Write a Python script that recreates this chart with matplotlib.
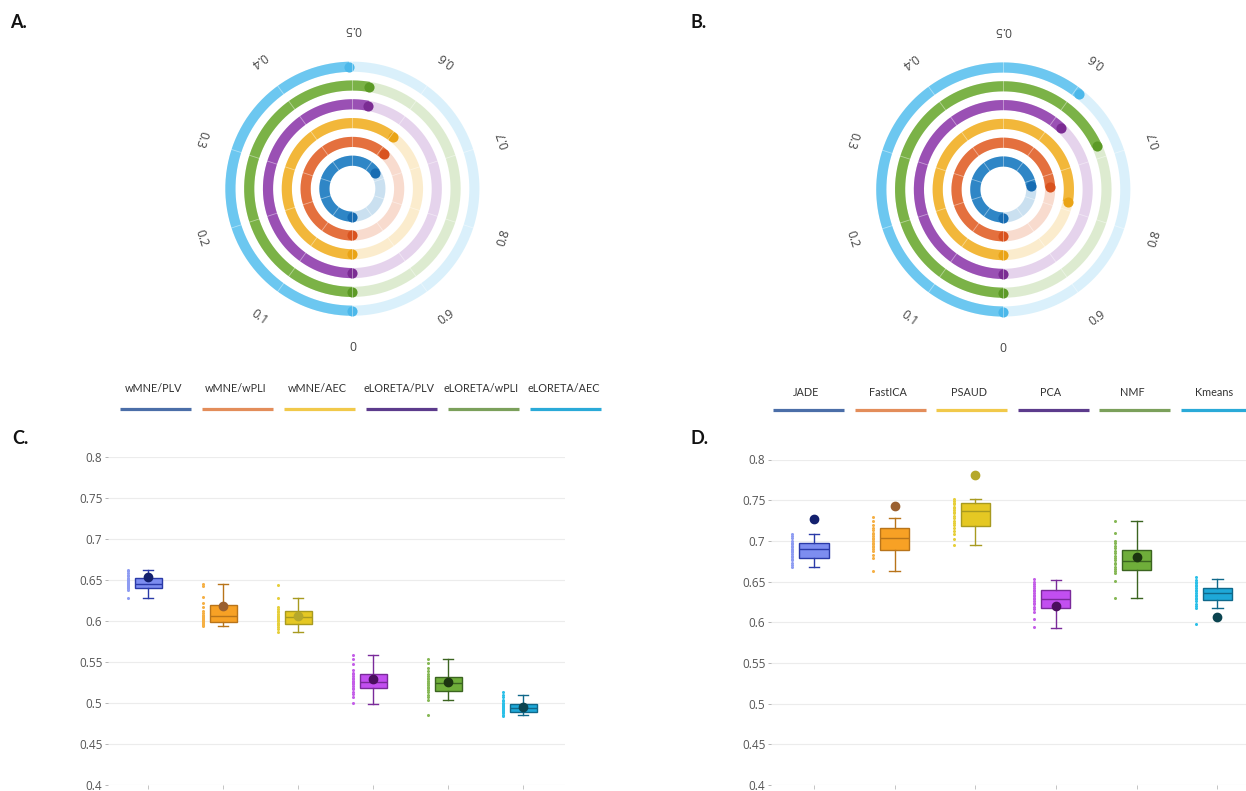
import matplotlib
matplotlib.use('Agg')
import matplotlib.pyplot as plt
import numpy as np

plt.rcParams['font.family'] = ['Open Sans', 'DejaVu Sans']

# --- panel A / C : inverse solution / connectivity measure
combos = ['wMNE/PLV', 'wMNE/wPLI', 'wMNE/AEC', 'eLORETA/PLV', 'eLORETA/wPLI', 'eLORETA/AEC']
c_pts = [
    [0.663, 0.661, 0.659, 0.657, 0.655, 0.653, 0.652, 0.650, 0.649, 0.648, 0.647, 0.646, 0.645, 0.644, 0.643, 0.642, 0.641, 0.640, 0.638, 0.629],
    [0.646, 0.643, 0.630, 0.622, 0.617, 0.612, 0.610, 0.608, 0.607, 0.606, 0.605, 0.604, 0.603, 0.602, 0.601, 0.600, 0.599, 0.598, 0.597, 0.596, 0.594],
    [0.644, 0.628, 0.618, 0.615, 0.613, 0.611, 0.609, 0.607, 0.606, 0.605, 0.604, 0.603, 0.601, 0.600, 0.598, 0.597, 0.595, 0.593, 0.590, 0.587],
    [0.559, 0.554, 0.548, 0.541, 0.537, 0.535, 0.533, 0.531, 0.529, 0.527, 0.526, 0.525, 0.523, 0.521, 0.519, 0.517, 0.514, 0.511, 0.508, 0.500],
    [0.554, 0.549, 0.543, 0.539, 0.536, 0.533, 0.531, 0.529, 0.527, 0.525, 0.524, 0.522, 0.520, 0.518, 0.516, 0.513, 0.510, 0.507, 0.504, 0.486],
    [0.513, 0.510, 0.507, 0.504, 0.502, 0.500, 0.499, 0.498, 0.497, 0.496, 0.495, 0.494, 0.493, 0.492, 0.491, 0.490, 0.489, 0.488, 0.486, 0.484],
]
c_q1 = [0.640, 0.599, 0.597, 0.5186, 0.5153, 0.4888]
c_med = [0.646, 0.606, 0.605, 0.5255, 0.5247, 0.494]
c_q3 = [0.653, 0.6194, 0.6124, 0.5357, 0.5324, 0.499]
c_lo = [0.629, 0.5937, 0.5867, 0.499, 0.5039, 0.4855]
c_hi = [0.663, 0.6455, 0.6284, 0.559, 0.554, 0.5104]
c_mean = [0.654, 0.619, 0.606, 0.530, 0.526, 0.4957]

# --- panel B / D : decomposition methods
methods = ['JADE', 'FastICA', 'PSAUD', 'PCA', 'NMF', 'Kmeans']
d_pts = [
    [0.709, 0.706, 0.703, 0.700, 0.698, 0.696, 0.694, 0.692, 0.690, 0.689, 0.688, 0.686, 0.684, 0.682, 0.680, 0.678, 0.676, 0.673, 0.670, 0.668],
    [0.729, 0.724, 0.720, 0.716, 0.713, 0.710, 0.708, 0.706, 0.704, 0.702, 0.700, 0.698, 0.696, 0.694, 0.692, 0.690, 0.687, 0.683, 0.679, 0.663],
    [0.752, 0.749, 0.747, 0.745, 0.742, 0.740, 0.738, 0.736, 0.734, 0.731, 0.728, 0.725, 0.722, 0.719, 0.716, 0.712, 0.708, 0.702, 0.695],
    [0.653, 0.650, 0.647, 0.645, 0.642, 0.640, 0.638, 0.636, 0.634, 0.632, 0.630, 0.628, 0.626, 0.624, 0.622, 0.619, 0.616, 0.612, 0.604, 0.594],
    [0.725, 0.710, 0.700, 0.697, 0.694, 0.691, 0.688, 0.685, 0.682, 0.679, 0.676, 0.673, 0.671, 0.668, 0.666, 0.663, 0.660, 0.651, 0.630],
    [0.655, 0.652, 0.650, 0.648, 0.646, 0.644, 0.642, 0.640, 0.638, 0.636, 0.634, 0.632, 0.630, 0.628, 0.626, 0.623, 0.620, 0.617, 0.598],
]
d_q1 = [0.6792, 0.689, 0.718, 0.6176, 0.6641, 0.6273]
d_med = [0.6898, 0.704, 0.7367, 0.6286, 0.6747, 0.636]
d_q3 = [0.6971, 0.7163, 0.7469, 0.6396, 0.689, 0.642]
d_lo = [0.6682, 0.6624, 0.695, 0.5927, 0.6294, 0.6171]
d_hi = [0.709, 0.7278, 0.7518, 0.6522, 0.7245, 0.6531]
d_mean = [0.7273, 0.7429, 0.7804, 0.6204, 0.680, 0.6069]

ring_ticks = [0, 0.1, 0.2, 0.3, 0.4, 0.5, 0.6, 0.7, 0.8, 0.9]

# colours
ring_cols = ['#2f86c6', '#e4703e', '#f2b73a', '#9a50b4', '#7bb247', '#6cc7f0']
ring_dark = ['#176cb2', '#d9521e', '#eaa416', '#7b2c93', '#5c9a26', '#4cb8ea']
leg_cols = ['#4b6ea8', '#e38d5a', '#f1c94a', '#5c3b8c', '#7ba05b', '#2aaad8']
box_fill = ['#7d8df0', '#f7a125', '#e5c823', '#c24ff0', '#6fae3a', '#1ea8d8']
box_edge = ['#2a3aa8', '#b8741a', '#a89a20', '#7a2a9a', '#3b6420', '#10688a']
pt_cols = ['#8e9cf2', '#f5b045', '#e6cf3a', '#c45ee8', '#86b855', '#2cc0e8']
mean_cols = ['#13206e', '#9a6030', '#b5a82a', '#4a0f5e', '#1c3510', '#0b4450']

W, H = 1246, 791
fig = plt.figure(figsize=(W / 100, H / 100), dpi=100)


def px_axes(left, top, width, height, **kw):
    return fig.add_axes([left / W, (H - top - height) / H, width / W, height / H], **kw)


def rings(ax, vals):
    ax.set_theta_zero_location('S')
    ax.set_theta_direction(-1)
    ax.set_ylim(0, 170)
    ax.set_axis_off()
    full = np.linspace(0, 2 * np.pi, 361)
    for i, v in enumerate(vals):
        r = 28 + 18.8 * i
        ax.plot(full, np.full_like(full, r), color=ring_cols[i], alpha=0.25, lw=7.3,
                solid_capstyle='butt')
        th = np.linspace(0, 2 * np.pi * v, 200)
        ax.plot(th, np.full_like(th, r), color=ring_cols[i], lw=7.3, solid_capstyle='butt')
        ax.plot([0, th[-1]], [r, r], 'o', ms=7.3, color=ring_dark[i], mec='none')
    for t in ring_ticks:
        ax.plot([2 * np.pi * t] * 2, [20, 131], color='white', lw=0.6, alpha=0.45)
        ax.text(2 * np.pi * t, 159, f'{t:g}', rotation=-360 * t, ha='center', va='center',
                fontsize=8.8, color='#444')


def boxes(ax, pts, q1, med, q3, lo, hi, mean, xlim):
    stats = [dict(q1=a, med=b, q3=c, whislo=d, whishi=e, fliers=[])
             for a, b, c, d, e in zip(q1, med, q3, lo, hi)]
    bp = ax.bxp(stats, positions=range(6), widths=0.36, capwidths=0.13, patch_artist=True,
                showfliers=False, manage_ticks=False)
    for i in range(6):
        bp['boxes'][i].set(facecolor=box_fill[i], edgecolor=box_edge[i], lw=1)
        bp['medians'][i].set(color=box_edge[i], lw=1)
        for k in (2 * i, 2 * i + 1):
            bp['whiskers'][k].set(color=box_edge[i], lw=1)
            bp['caps'][k].set(color=box_edge[i], lw=1)
        ax.plot(np.full(len(pts[i]), i - 0.27), pts[i], 'o', ms=2.2, color=pt_cols[i], mec='none')
        ax.plot(i, mean[i], 'o', ms=6, color=mean_cols[i], zorder=5, clip_on=False)
    ticks = np.round(np.arange(0.4, 0.801, 0.05), 2)
    ax.set_ylim(0.4, 0.8)
    ax.set_xlim(*xlim)
    ax.set_yticks(ticks)
    ax.set_yticklabels([f'{t:g}' for t in ticks])
    ax.set_xticks(range(6))
    ax.set_xticklabels([])
    for s in ax.spines.values():
        s.set_visible(False)
    ax.grid(axis='y', color='#ececec', lw=0.8)
    ax.set_axisbelow(True)
    ax.tick_params(axis='y', length=2.5, width=0.6, color='#aaa', labelsize=8.5,
                   labelcolor='#555', pad=1.5)
    ax.tick_params(axis='x', length=3, width=0.6, color='#bbb')


axA = px_axes(182.4, 18.7, 340, 340, projection='polar')
rings(axA, c_mean)
axB = px_axes(833.3, 19.5, 340, 340, projection='polar')
rings(axB, d_mean)

axC = px_axes(108, 457.5, 457, 327.5)
boxes(axC, c_pts, c_q1, c_med, c_q3, c_lo, c_hi, c_mean, (-0.537, 5.556))
axD = px_axes(771, 459.5, 475, 325.5)
boxes(axD, d_pts, d_q1, d_med, d_q3, d_lo, d_hi, d_mean, (-0.533, 5.356))

# overlay in pixel coordinates for legends and panel letters
ov = fig.add_axes([0, 0, 1, 1])
ov.set_xlim(0, W)
ov.set_ylim(H, 0)
ov.axis('off')

for names, x0, step, ty, ly in [(combos, 155.5, 82, 388, 409), (methods, 808.5, 81.5, 392, 410)]:
    for i, name in enumerate(names):
        cx = x0 + step * i
        ov.plot([cx - 35.5, cx + 35.5], [ly, ly], color=leg_cols[i], lw=2.3, solid_capstyle='butt')
        ov.text(cx - 2, ty, name, ha='center', va='center', fontsize=7.8, family='Lato',
                color='#333')

for lab, x, y in [('A.', 10, 22), ('B.', 690, 22), ('C.', 12, 438), ('D.', 690, 438)]:
    ov.text(x, y, lab, ha='left', va='center', fontsize=13, weight='bold', family='Lato',
            color='#111')

fig.savefig('out.png', dpi=100, facecolor='white')
